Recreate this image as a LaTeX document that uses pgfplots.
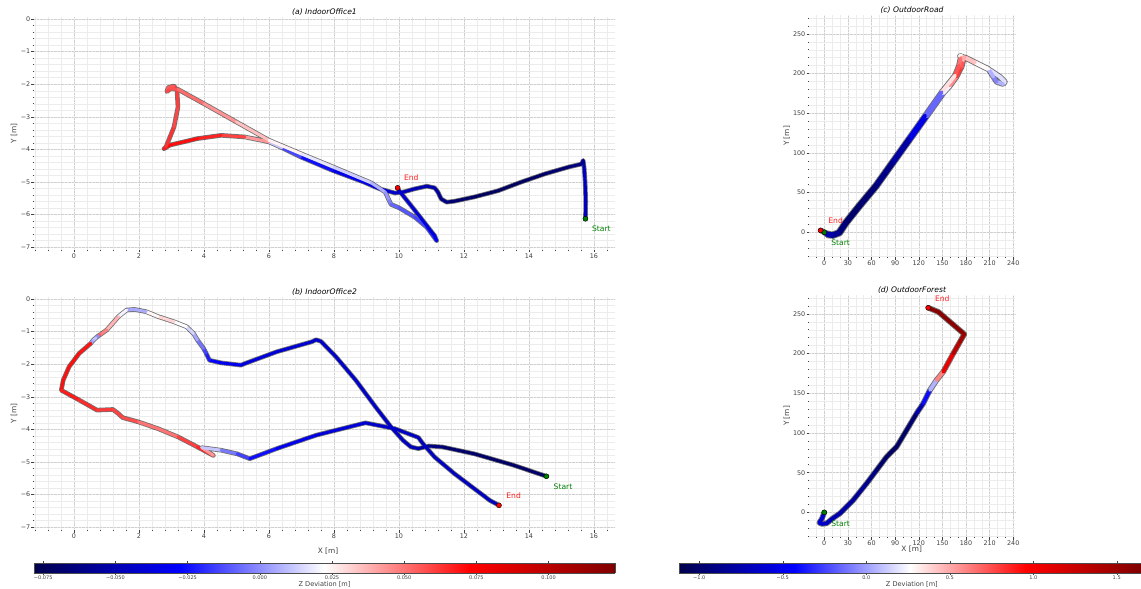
\documentclass[border=0pt]{standalone}
\usepackage{pgfplots}
\usepackage{pgfplotstable}
\pgfplotsset{compat=1.18}
\usepackage{fontspec}
\setmainfont{DejaVu Sans}
\definecolor{tickgray}{gray}{0.25}
\definecolor{startgreen}{rgb}{0,0.5,0}
\definecolor{endred}{rgb}{1,0.12,0.12}
\pgfplotsset{
  colormap={seismic}{rgb=(0,0,0.3) rgb=(0,0,1) rgb=(1,1,1) rgb=(1,0,0) rgb=(0.5,0,0)},
  traj/.style={
    scale only axis, anchor=north west,
    axis line style={draw=none},
    grid=both,
    major grid style={gray!38, densely dotted, line width=0.45pt},
    minor grid style={gray!15, line width=0.35pt},
    tick align=outside,
    major tick length=2.5pt, minor tick length=1.2pt,
    every tick/.append style={tickgray, line width=0.5pt},
    xtick pos=left, ytick pos=left,
    tick label style={font=\fontsize{6.4}{7}\selectfont, text=tickgray},
    xticklabel style={inner sep=1pt},
    yticklabel style={inner sep=1pt},
    title style={font=\fontsize{7.6}{9}\selectfont\itshape, inner sep=1pt, yshift=-6pt},
    label style={font=\fontsize{7.4}{9}\selectfont, text=tickgray},
    colormap name=seismic,
  },
  under/.style={black, opacity=0.55, line width=4.6pt, line cap=round, line join=round},
  colline/.style={mesh, point meta=explicit, line width=3pt, line cap=round, line join=round},
  startmk/.style={only marks, mark=*, mark size=2.5pt, mark options={fill=startgreen, draw=black, line width=0.4pt}},
  endmk/.style={only marks, mark=*, mark size=2.5pt, mark options={fill=red, draw=black, line width=0.4pt}},
  cbar/.style={
    scale only axis, anchor=north west, height=10pt,
    view={0}{90}, ymin=0, ymax=1, zmin=-1, zmax=1,
    ytick=\empty, ztick=\empty,
    tick align=outside, major tick length=2pt,
    every tick/.append style={tickgray, line width=0.4pt},
    tick label style={font=\fontsize{5}{6}\selectfont, text=tickgray, inner sep=0.6pt},
    axis line style={gray!60!black, line width=0.4pt},
    xlabel={Z Deviation [m]},
    xlabel style={font=\fontsize{6.6}{8}\selectfont, text=tickgray, anchor=center},
    colormap name=seismic, axis on top,
  },
}
\newcommand{\lblfont}{\fontsize{7.6}{9}\selectfont}

\pgfplotstableread{
x y z
15.74 -6.13 -0.045
15.75 -5.60 -0.045
15.73 -5.00 -0.044
15.70 -4.55 -0.045
15.67 -4.34 -0.055
15.62 -4.45 -0.062
15.23 -4.54 -0.066
14.50 -4.75 -0.070
13.77 -5.00 -0.073
13.05 -5.27 -0.073
12.32 -5.46 -0.071
11.71 -5.59 -0.068
11.47 -5.62 -0.065
11.30 -5.52 -0.060
11.20 -5.31 -0.055
11.10 -5.18 -0.050
10.86 -5.13 -0.050
10.49 -5.21 -0.048
10.13 -5.31 -0.046
9.88 -5.34 -0.045
9.40 -5.21 -0.040
8.91 -5.00 -0.036
7.94 -4.64 -0.030
6.97 -4.23 -0.020
6.40 -3.95 -0.008
6.00 -3.77 0.030
5.26 -3.62 0.055
4.53 -3.57 0.064
3.80 -3.67 0.068
2.95 -3.87 0.072
2.77 -3.98 0.070
2.83 -3.93 0.066
3.08 -3.31 0.060
3.20 -2.70 0.058
3.17 -2.18 0.064
3.08 -2.06 0.060
2.90 -2.10 0.050
2.86 -2.23 0.060
2.97 -2.14 0.058
3.20 -2.16 0.055
4.00 -2.60 0.048
5.00 -3.16 0.040
6.00 -3.72 0.030
7.00 -4.14 0.020
8.00 -4.55 0.015
9.15 -5.03 0.010
9.58 -5.31 0.004
9.70 -5.57 0.000
9.76 -5.69 -0.006
10.00 -5.79 -0.010
10.49 -6.08 -0.012
10.86 -6.39 -0.016
11.16 -6.80 -0.025
11.10 -6.65 -0.036
10.49 -5.87 -0.040
10.00 -5.26 -0.040
9.96 -5.18 -0.040
}\trajA

\pgfplotstableread{
x y z
14.54 -5.44 -0.070
13.53 -5.10 -0.072
12.32 -4.75 -0.070
11.34 -4.54 -0.068
10.92 -4.51 -0.060
10.60 -4.59 -0.050
10.37 -4.54 -0.046
10.13 -4.34 -0.044
9.76 -3.93 -0.043
9.28 -3.31 -0.042
8.67 -2.49 -0.042
8.06 -1.77 -0.042
7.60 -1.30 -0.042
7.45 -1.25 -0.044
7.33 -1.31 -0.042
6.24 -1.62 -0.040
5.26 -1.98 -0.036
5.14 -2.03 -0.035
4.53 -1.96 -0.030
4.17 -1.88 -0.025
4.07 -1.67 -0.020
3.99 -1.52 -0.010
3.80 -1.26 0.000
3.68 -1.06 0.010
3.46 -0.85 0.018
3.08 -0.70 0.026
2.59 -0.54 0.036
2.22 -0.39 0.012
1.86 -0.32 0.000
1.62 -0.34 0.010
1.37 -0.54 0.030
1.01 -0.95 0.045
0.80 -1.10 0.050
0.75 -1.13 0.060
0.68 -1.19 -0.060
0.62 -1.24 0.080
0.57 -1.29 -0.060
0.52 -1.36 0.068
0.16 -1.67 0.070
-0.15 -2.08 0.070
-0.33 -2.49 0.070
-0.39 -2.80 0.070
0.16 -3.10 0.065
0.71 -3.41 0.064
1.20 -3.39 0.060
1.37 -3.52 0.060
1.50 -3.64 0.060
1.98 -3.77 0.055
2.59 -3.98 0.045
3.20 -4.23 0.055
3.80 -4.54 0.065
4.29 -4.80 0.066
3.93 -4.56 0.020
4.53 -4.64 0.002
5.02 -4.75 -0.010
5.41 -4.90 -0.020
6.24 -4.59 -0.030
7.45 -4.18 -0.036
8.97 -3.80 -0.040
9.88 -3.98 -0.044
10.60 -4.25 -0.045
10.74 -4.44 -0.045
11.10 -4.85 -0.045
11.71 -5.36 -0.045
12.32 -5.82 -0.045
12.80 -6.18 -0.045
13.08 -6.33 -0.045
}\trajB

\pgfplotstableread{
x y z
0 0 -0.60
5 -4 -0.70
11.4 -4.6 -0.80
19.9 -1.3 -0.90
28.4 11.3 -1.00
45.3 32.3 -1.00
66.5 57.5 -0.95
87.6 86.8 -0.85
108.8 116.2 -0.72
130 145.6 -0.35
151 175 0.05
160 185 0.40
168 196 0.75
174.4 208.5 0.85
176.5 216.9 0.60
174.4 221.9 0.30
172.3 221.9 0.25
176 221 0.35
180.7 218.9 0.55
193.4 212.6 0.35
210.4 204.3 0.20
223 196 0.15
229.4 189.6 0.20
227.2 186.7 0.15
218.8 189.6 -0.05
214.6 196 -0.10
208.4 205.8 0.20
191.4 214.1 0.35
178.7 220.4 0.50
173 219 0.50
171 210 0.80
166 197.5 0.65
149 176.5 0.05
128 147.1 -0.35
106.8 117.7 -0.72
85.6 88.3 -0.85
64.5 59 -0.95
43.3 33.8 -1.00
26.4 12.8 -1.00
17.9 0.2 -0.90
10 -2.5 -0.80
3 -1 -0.70
-4.7 2.5 -0.60
}\trajC

\pgfplotstableread{
x y z
0 0 -0.55
-3 -8 -0.60
-6.3 -13 -0.60
-3 -14.5 -0.62
3 -13.8 -0.65
10 -8 -0.70
19.9 -1.3 -0.75
36.8 15.5 -0.80
53.8 36.5 -0.85
66.5 53.3 -0.95
79.2 70 -1.05
91.9 82.6 -1.00
104.6 103.6 -1.05
117.2 124.6 -0.90
125.7 137.2 -0.60
134.2 154 -0.20
142.6 166.5 0.30
151.1 177 0.90
163.8 200 1.20
172.3 214.8 1.40
177.8 224.4 1.50
174.4 227.3 1.55
159.6 239.9 1.60
144.8 252.5 1.60
132 257.6 1.60
}\trajD

\begin{document}
\begin{tikzpicture}
\useasboundingbox (0pt,0pt) rectangle (1141pt,-589pt);

% (a)
\begin{axis}[traj, at={(34pt,-17pt)}, width=581pt, height=233pt,
  xmin=-1.23, xmax=16.65, ymin=-7.087, ymax=0.06,
  xtick={0,2,4,6,8,10,12,14,16}, xticklabels={0,2,4,6,8,10,12,14,16},
  ytick={-7,-6,-5,-4,-3,-2,-1,0}, yticklabels={−7,−6,−5,−4,−3,−2,−1,0},
  minor xtick={-1.2,-0.8,...,16.5}, minor ytick={-7,-6.8,...,0.01},
  point meta min=-0.0782, point meta max=0.123,
  title={(a) IndoorOffice1}, ylabel={Y [m]},
  ylabel style={at={(axis description cs:-0.0344,0.5)}, anchor=center},
]
\addplot[under] table[x=x,y=y] {\trajA};
\addplot[colline] table[x=x,y=y,meta=z] {\trajA};
\addplot[startmk] coordinates {(15.74,-6.13)};
\addplot[endmk] coordinates {(9.96,-5.18)};
\node[text=endred, font=\lblfont] at (axis cs:10.38,-4.88) {End};
\node[text=startgreen, font=\lblfont] at (axis cs:16.23,-6.45) {Start};
\end{axis}

% (b)
\begin{axis}[traj, at={(34pt,-297pt)}, width=581pt, height=233pt,
  xmin=-1.23, xmax=16.65, ymin=-7.087, ymax=0.06,
  xtick={0,2,4,6,8,10,12,14,16}, xticklabels={0,2,4,6,8,10,12,14,16},
  ytick={-7,-6,-5,-4,-3,-2,-1,0}, yticklabels={−7,−6,−5,−4,−3,−2,−1,0},
  minor xtick={-1.2,-0.8,...,16.5}, minor ytick={-7,-6.8,...,0.01},
  point meta min=-0.0782, point meta max=0.123,
  title={(b) IndoorOffice2}, ylabel={Y [m]}, xlabel={X [m]},
  ylabel style={at={(axis description cs:-0.0344,0.5)}, anchor=center},
  xlabel style={at={(axis description cs:0.506,-0.092)}, anchor=center},
]
\addplot[under] table[x=x,y=y] {\trajB};
\addplot[colline] table[x=x,y=y,meta=z] {\trajB};
\addplot[startmk] coordinates {(14.54,-5.44)};
\addplot[endmk] coordinates {(13.08,-6.33)};
\node[text=endred, font=\lblfont] at (axis cs:13.53,-6.03) {End};
\node[text=startgreen, font=\lblfont] at (axis cs:15.05,-5.77) {Start};
\end{axis}

% (c)
\begin{axis}[traj, at={(809pt,-15pt)}, width=206pt, height=242pt,
  xmin=-19.4, xmax=242.2, ymin=-31, ymax=273.7,
  xtick={0,30,60,90,120,150,180,210,240}, xticklabels={0,30,60,90,120,150,180,210,240},
  ytick={0,50,100,150,200,250}, yticklabels={0,50,100,150,200,250},
  minor xtick={-10,0,...,240}, minor ytick={-30,-20,...,270},
  point meta min=-1.1216, point meta max=1.6455,
  title={(c) OutdoorRoad}, ylabel={Y [m]},
  ylabel style={at={(axis description cs:-0.108,0.5)}, anchor=center},
]
\addplot[under, line width=5.6pt] table[x=x,y=y] {\trajC};
\addplot[colline, line width=3.8pt] table[x=x,y=y,meta=z] {\trajC};
\addplot[startmk] coordinates {(0,0)};
\addplot[endmk] coordinates {(-4.7,2.5)};
\node[text=endred, font=\lblfont] at (axis cs:14.4,14.3) {End};
\node[text=startgreen, font=\lblfont] at (axis cs:20.7,-13) {Start};
\end{axis}

% (d)
\begin{axis}[traj, at={(809pt,-295pt)}, width=206pt, height=242pt,
  xmin=-19.4, xmax=242.2, ymin=-31, ymax=273.7,
  xtick={0,30,60,90,120,150,180,210,240}, xticklabels={0,30,60,90,120,150,180,210,240},
  ytick={0,50,100,150,200,250}, yticklabels={0,50,100,150,200,250},
  minor xtick={-10,0,...,240}, minor ytick={-30,-20,...,270},
  point meta min=-1.1216, point meta max=1.6455,
  title={(d) OutdoorForest}, ylabel={Y [m]}, xlabel={X [m]},
  ylabel style={at={(axis description cs:-0.108,0.5)}, anchor=center},
  xlabel style={at={(axis description cs:0.4985,-0.05)}, anchor=center},
]
\addplot[under, line width=5.6pt] table[x=x,y=y] {\trajD};
\addplot[colline, line width=3.8pt] table[x=x,y=y,meta=z] {\trajD};
\addplot[startmk] coordinates {(0,0)};
\addplot[endmk] coordinates {(132,257.6)};
\node[text=endred, font=\lblfont] at (axis cs:149.8,269.3) {End};
\node[text=startgreen, font=\lblfont] at (axis cs:20.7,-13.8) {Start};
\end{axis}

% colorbar left
\begin{axis}[cbar, at={(34pt,-563pt)}, width=581pt,
  xmin=-0.0782, xmax=0.123,
  xtick={-0.075,-0.05,-0.025,0,0.025,0.05,0.075,0.1},
  xticklabels={−0.075,−0.050,−0.025,0.000,0.025,0.050,0.075,0.100},
  xlabel style={at={(axis description cs:0.5,-1.1)}},
]
\addplot3[surf, shader=interp, point meta=x, mesh/rows=2] coordinates {
(-0.0782,0,0) (-0.0279,0,0) (0.0224,0,0) (0.0727,0,0) (0.123,0,0)
(-0.0782,1,0) (-0.0279,1,0) (0.0224,1,0) (0.0727,1,0) (0.123,1,0)
};
\end{axis}

% colorbar right
\begin{axis}[cbar, at={(679pt,-563pt)}, width=462pt,
  xmin=-1.1216, xmax=1.6455,
  xtick={-1,-0.5,0,0.5,1,1.5},
  xticklabels={−1.0,−0.5,0.0,0.5,1.0,1.5},
  xlabel style={at={(axis description cs:0.504,-1.1)}},
]
\addplot3[surf, shader=interp, point meta=x, mesh/rows=2] coordinates {
(-1.1216,0,0) (-0.4299,0,0) (0.2620,0,0) (0.9538,0,0) (1.6455,0,0)
(-1.1216,1,0) (-0.4299,1,0) (0.2620,1,0) (0.9538,1,0) (1.6455,1,0)
};
\end{axis}
\end{tikzpicture}
\end{document}
